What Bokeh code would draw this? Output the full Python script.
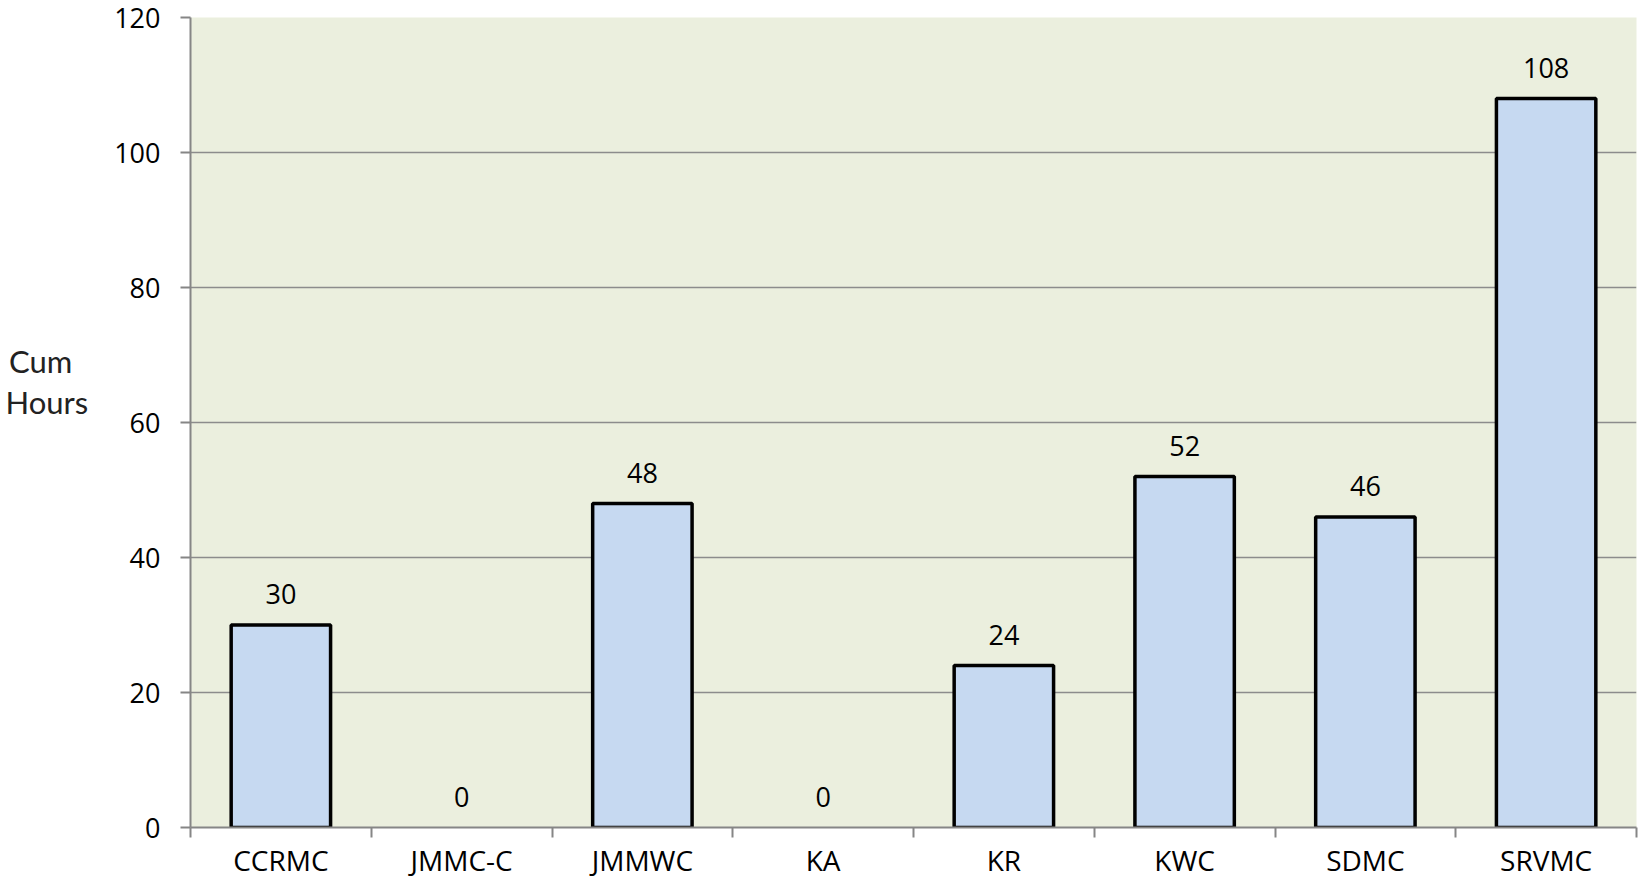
from bokeh.plotting import figure
from bokeh.models import Range1d, FixedTicker, ColumnDataSource, CDSView, BooleanFilter
from bokeh.embed import file_html
from bokeh.resources import INLINE
from bokeh.core.properties import value

categories = ["CCRMC", "JMMC-C", "JMMWC", "KA", "KR", "KWC", "SDMC", "SRVMC"]
hours = [30, 0, 48, 0, 24, 52, 46, 108]
y_ticks = [0, 20, 40, 60, 80, 100, 120]
y_title = "Cum\u00a0\u00a0\nHours\n\u00a0\n\u00a0"

FONT = "Open Sans"
AX = "#868686"

xpos = [i + 0.5 for i in range(len(categories))]
src = ColumnDataSource(dict(x=xpos, top=hours, label=[str(h) for h in hours]))

p = figure(width=1638, height=887,
           x_range=Range1d(0, len(categories)), y_range=Range1d(0, 120),
           output_backend="svg", toolbar_location=None,
           min_border_left=190, min_border_right=2, min_border_top=17, min_border_bottom=60)
p.background_fill_color = "#EBEFDE"
p.border_fill_color = "white"
p.outline_line_color = None

view = CDSView(filter=BooleanFilter([h > 0 for h in hours]))
p.vbar(x="x", top="top", bottom=0, width=0.55, source=src, view=view,
       fill_color="#C6D9F1", line_color="black", line_width=3.5)

p.text(x="x", y="top", text="label", source=src,
       text_font=value(FONT), text_font_size=value("27px"), text_color="black",
       text_align="center", text_baseline="alphabetic", y_offset=-31)

# y axis
p.yaxis.ticker = FixedTicker(ticks=y_ticks)
p.yaxis.major_tick_out = 10
p.yaxis.major_tick_in = 0
p.yaxis.minor_tick_line_color = None
p.yaxis.axis_line_color = AX
p.yaxis.axis_line_width = 2
p.yaxis.major_tick_line_color = AX
p.yaxis.major_tick_line_width = 2
p.yaxis.major_label_text_font = FONT
p.yaxis.major_label_text_font_size = "27px"
p.yaxis.major_label_text_color = "black"
p.yaxis.major_label_standoff = 20
p.yaxis.axis_label = y_title
p.yaxis.axis_label_orientation = "horizontal"
p.yaxis.axis_label_text_font = "Lato"
p.yaxis.axis_label_text_font_size = "31px"
p.yaxis.axis_label_text_font_style = "normal"
p.yaxis.axis_label_text_color = "#222222"
p.yaxis.axis_label_text_line_height = 1.08
p.yaxis.axis_label_standoff = 23

# x axis: boundary ticks, category names centred in each band
p.xaxis.ticker = FixedTicker(ticks=xpos, minor_ticks=list(range(len(categories) + 1)))
p.xaxis.major_label_overrides = {x: c for x, c in zip(xpos, categories)}
p.xaxis.major_tick_out = 0
p.xaxis.major_tick_in = 0
p.xaxis.minor_tick_out = 10
p.xaxis.minor_tick_in = 0
p.xaxis.minor_tick_line_color = AX
p.xaxis.minor_tick_line_width = 2
p.xaxis.axis_line_color = AX
p.xaxis.axis_line_width = 2
p.xaxis.major_label_text_font = FONT
p.xaxis.major_label_text_font_size = "28px"
p.xaxis.major_label_text_color = "black"
p.xaxis.major_label_standoff = 3

p.xgrid.grid_line_color = None
p.ygrid.grid_line_color = "#8C8C8C"
p.ygrid.grid_line_width = 1.5

open("out.html", "w").write(file_html(p, INLINE))
